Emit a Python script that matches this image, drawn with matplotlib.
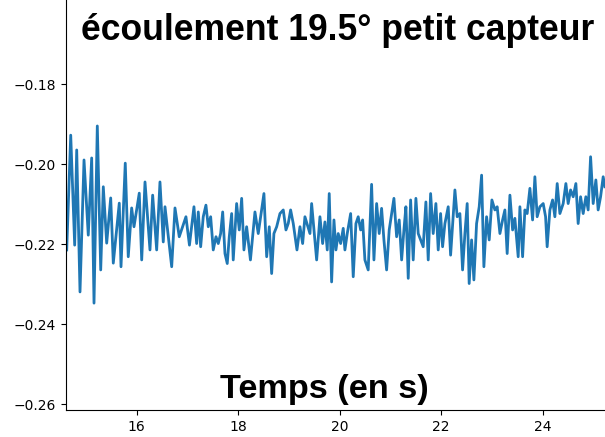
import matplotlib
matplotlib.use("Agg")
import matplotlib.pyplot as plt

# pressure signal, small sensor, 19.5 deg flow (time in s, value)
temps = [
    14.621, 14.700, 14.778, 14.818, 14.883, 14.962, 15.046, 15.113, 15.159, 15.224,
    15.291, 15.342, 15.409, 15.488, 15.539, 15.657, 15.691, 15.775, 15.834, 15.901,
    15.947, 16.051, 16.099, 16.164, 16.262, 16.315, 16.394, 16.459, 16.524, 16.558,
    16.690, 16.755, 16.839, 16.971, 17.040, 17.129, 17.182, 17.214, 17.261, 17.312,
    17.365, 17.411, 17.458, 17.509, 17.563, 17.608, 17.655, 17.695, 17.740, 17.785,
    17.825, 17.872, 17.903, 17.970, 18.022, 18.069, 18.114, 18.167, 18.242, 18.331,
    18.396, 18.443, 18.508, 18.562, 18.613, 18.660, 18.705, 18.759, 18.824, 18.889,
    18.942, 18.987, 19.034, 19.086, 19.159, 19.218, 19.271, 19.316, 19.415, 19.448,
    19.494, 19.547, 19.612, 19.665, 19.710, 19.756, 19.795, 19.842, 19.888, 19.927,
    19.972, 20.020, 20.071, 20.104, 20.150, 20.217, 20.268, 20.321, 20.366, 20.414,
    20.453, 20.498, 20.563, 20.630, 20.676, 20.729, 20.780, 20.827, 20.873, 20.926,
    20.977, 21.025, 21.070, 21.123, 21.174, 21.222, 21.267, 21.306, 21.352, 21.399,
    21.450, 21.503, 21.549, 21.647, 21.700, 21.746, 21.793, 21.844, 21.897, 21.943,
    21.990, 22.029, 22.075, 22.140, 22.187, 22.272, 22.317, 22.370, 22.423, 22.469,
    22.514, 22.553, 22.601, 22.646, 22.699, 22.751, 22.798, 22.843, 22.896, 22.948,
    23.001, 23.060, 23.105, 23.159, 23.212, 23.257, 23.302, 23.356, 23.409, 23.454,
    23.519, 23.553, 23.606, 23.651, 23.696, 23.750, 23.803, 23.848, 23.893, 23.947,
    24.012, 24.059, 24.090, 24.144, 24.197, 24.242, 24.288, 24.341, 24.406, 24.459,
    24.504, 24.552, 24.603, 24.656, 24.701, 24.749, 24.800, 24.853, 24.898, 24.946,
    24.997, 25.050, 25.095, 25.143, 25.194, 25.228,
]
signal = [
    -0.2214, -0.1927, -0.2202, -0.1964, -0.2319, -0.1989, -0.2177, -0.1984, -0.2347, -0.1904,
    -0.2264, -0.2056, -0.2197, -0.2084, -0.2247, -0.2097, -0.2256, -0.1997, -0.2231, -0.2109,
    -0.2156, -0.2072, -0.2239, -0.2044, -0.2214, -0.2077, -0.2214, -0.2044, -0.2194, -0.2106,
    -0.2256, -0.2109, -0.2181, -0.2131, -0.2202, -0.2106, -0.2198, -0.2119, -0.2206, -0.2131,
    -0.2102, -0.2156, -0.2131, -0.2214, -0.2181, -0.2198, -0.2173, -0.2119, -0.2223, -0.2248,
    -0.2181, -0.2123, -0.2239, -0.2098, -0.2164, -0.2085, -0.2214, -0.2156, -0.2239, -0.2119,
    -0.2173, -0.2131, -0.2073, -0.2231, -0.2156, -0.2273, -0.2173, -0.2156, -0.2123, -0.2114,
    -0.2164, -0.2148, -0.2114, -0.2148, -0.2214, -0.2156, -0.2198, -0.2131, -0.2173, -0.2098,
    -0.2164, -0.2239, -0.2131, -0.2198, -0.2144, -0.2214, -0.2073, -0.2294, -0.2139, -0.2214,
    -0.2173, -0.2198, -0.2160, -0.2214, -0.2173, -0.2123, -0.2281, -0.2148, -0.2131, -0.2164,
    -0.2139, -0.2239, -0.2264, -0.2050, -0.2239, -0.2098, -0.2173, -0.2110, -0.2189, -0.2264,
    -0.2164, -0.2123, -0.2085, -0.2181, -0.2139, -0.2239, -0.2164, -0.2106, -0.2285, -0.2089,
    -0.2239, -0.2085, -0.2173, -0.2206, -0.2094, -0.2239, -0.2073, -0.2173, -0.2098, -0.2214,
    -0.2123, -0.2206, -0.2148, -0.2106, -0.2227, -0.2064, -0.2131, -0.2123, -0.2264, -0.2173,
    -0.2098, -0.2298, -0.2189, -0.2289, -0.2148, -0.2106, -0.2027, -0.2256, -0.2131, -0.2189,
    -0.2089, -0.2114, -0.2106, -0.2173, -0.2139, -0.2114, -0.2223, -0.2077, -0.2164, -0.2135,
    -0.2231, -0.2106, -0.2231, -0.2114, -0.2123, -0.2060, -0.2139, -0.2031, -0.2131, -0.2106,
    -0.2098, -0.2131, -0.2206, -0.2114, -0.2089, -0.2131, -0.2048, -0.2123, -0.2098, -0.2048,
    -0.2098, -0.2064, -0.2081, -0.2048, -0.2148, -0.2081, -0.2123, -0.2081, -0.2114, -0.1981,
    -0.2098, -0.2039, -0.2114, -0.2081, -0.2031, -0.2056,
]
yticks = [-0.26, -0.24, -0.22, -0.20, -0.18]
xticks = [16, 18, 20, 22, 24]

fig = plt.figure(figsize=(6.05, 4.37), dpi=100)
ax = fig.add_axes([66 / 605, 26.7 / 437, 1 - 66 / 605, 1 - 26.7 / 437])

ax.plot(temps, signal, color="#1f77b4", lw=2.0, solid_joinstyle="round")

ax.set_xlim(14.607, 25.23)
ax.set_ylim(-0.2615, -0.1589)
ax.set_xticks(xticks)
ax.set_yticks(yticks)
ax.set_yticklabels([f"{v:.2f}".replace("-", "\u2212") for v in yticks])
ax.tick_params(labelsize=10)
ax.spines["top"].set_visible(False)
ax.spines["right"].set_visible(False)

bold = dict(family="Liberation Sans", weight="bold", color="black")
fig.text(337.5 / 605, 1 - 40 / 437, "écoulement 19.5° petit capteur",
         ha="center", va="baseline", fontsize=25.6, **bold)
fig.text(324 / 605, 1 - 398 / 437, "Temps (en s)",
         ha="center", va="baseline", fontsize=24.7, **bold)

fig.savefig("out.png", dpi=100)
